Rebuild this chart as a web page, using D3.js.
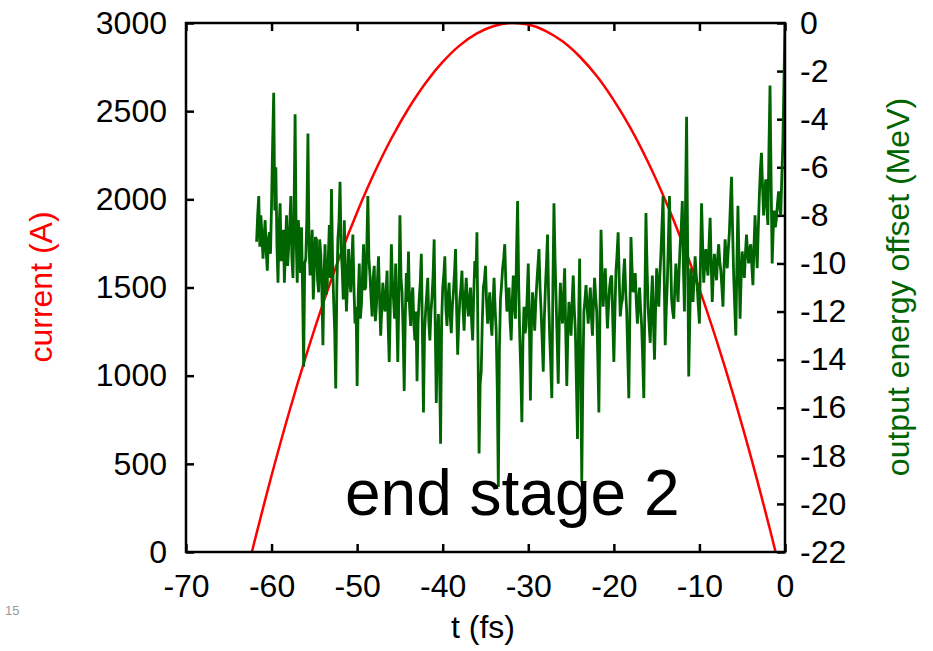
<!DOCTYPE html>
<html>
<head>
<meta charset="utf-8">
<script src="https://cdn.jsdelivr.net/npm/d3@7"></script>
<style>
body{margin:0;background:#fff;}
text{font-family:"Liberation Sans",Arial,sans-serif;}
</style>
</head>
<body>
<div id="graph"></div>
<script>
// axis ticks
var xTicks=[-70,-60,-50,-40,-30,-20,-10,0];
var yTicks=[0,500,1000,1500,2000,2500,3000];
var y2Ticks=[0,-2,-4,-6,-8,-10,-12,-14,-16,-18,-20,-22];

// current profile (red), t in fs, current in A
var currentT=[-62.3,-62,-60,-58,-56,-54,-52,-50,-48,-46,-44,-42,-40,-38,-36,-34,-32,
  -30,-28,-26,-24,-22,-20,-18,-16,-14,-12,-10,-8,-6,-4,-2,-1.1];
var currentA=[0,59,434,784,1108,1407,1680,1927,2149,2345,2515,2660,2779,2873,2941,2983,3000,
  2991,2956,2896,2810,2699,2561,2399,2210,1996,1757,1491,1200,884,542,174,0];

// output energy offset (green), MeV, one sample every 0.125 fs from -61.75 fs
var energyStart=-61.75, energyStep=0.125;
var energy=[-9.1,-8.0,-7.2,-9.3,-8.0,-8.8,
  -9.8,-8.9,-8.2,-9.5,-10.3,-9.0,-8.7,-9.6,
  -7.5,-5.0,-2.9,-7.8,-6.0,-9.2,-10.8,-8.5,
  -7.5,-9.9,-9.4,-8.6,-10.8,-9.3,-8.0,-10.1,
  -9.3,-8.4,-7.2,-9.8,-10.6,-7.9,-3.8,-9.0,
  -10.8,-8.2,-9.0,-10.4,-8.5,-11.2,-14.3,-10.0,
  -9.8,-8.1,-4.6,-9.2,-10.5,-9.4,-8.6,-11.5,
  -10.2,-8.9,-9.0,-10.7,-11.2,-9.0,-9.6,-11.0,
  -13.4,-10.5,-9.2,-11.3,-10.9,-9.8,-8.4,-10.6,
  -6.9,-9.8,-11.5,-12.8,-15.2,-11.0,-9.0,-8.3,
  -6.6,-9.4,-10.2,-11.5,-8.2,-10.4,-12.0,-10.8,
  -9.4,-10.6,-11.2,-9.9,-8.8,-11.0,-12.5,-11.8,
  -15.1,-11.4,-10.0,-12.3,-11.7,-10.5,-9.2,-11.1,
  -11.0,-9.4,-7.2,-9.8,-10.5,-11.4,-12.2,-10.6,
  -10.1,-12.4,-11.8,-10.7,-9.7,-11.5,-13.0,-11.9,
  -10.8,-11.6,-12.0,-11.2,-10.3,-12.6,-14.1,-11.8,
  -9.2,-10.8,-11.5,-12.3,-10.0,-12.0,-14.1,-11.4,
  -8.0,-10.6,-11.2,-12.9,-15.3,-12.2,-10.4,-11.6,
  -9.5,-11.8,-12.6,-11.4,-11.0,-12.5,-13.2,-12.0,
  -14.9,-12.4,-11.5,-10.8,-9.6,-12.8,-16.2,-12.9,
  -12.0,-11.3,-10.6,-12.4,-13.2,-12.0,-11.4,-10.5,
  -9.0,-12.6,-15.8,-13.0,-12.1,-14.2,-17.5,-12.4,
  -11.0,-10.5,-9.7,-11.9,-12.6,-11.4,-10.8,-12.2,
  -12.9,-11.8,-11.2,-10.4,-9.4,-11.9,-13.8,-12.4,
  -11.5,-11.0,-10.3,-11.9,-12.8,-11.4,-10.6,-11.6,
  -12.2,-11.5,-11.0,-12.4,-13.2,-11.3,-9.9,-10.6,
  -8.7,-13.5,-17.9,-15.0,-14.5,-12.4,-11.0,-10.7,
  -10.1,-11.6,-12.5,-11.8,-11.2,-12.4,-13.0,-11.7,
  -10.6,-11.9,-12.8,-15.2,-19.3,-13.6,-11.5,-10.9,
  -10.2,-9.8,-9.2,-10.8,-12.0,-11.6,-11.0,-12.4,
  -13.2,-11.6,-10.5,-11.7,-12.3,-9.6,-7.4,-10.8,
  -13.0,-14.5,-16.6,-13.2,-11.8,-12.9,-12.6,-11.3,
  -10.0,-12.4,-15.7,-12.5,-11.2,-12.0,-12.8,-11.6,
  -10.8,-10.1,-9.4,-11.0,-12.0,-13.2,-14.5,-12.3,
  -11.0,-10.0,-8.8,-11.4,-13.0,-14.2,-15.6,-11.0,
  -7.5,-9.8,-11.5,-13.2,-15.0,-12.4,-10.8,-11.9,
  -12.5,-11.3,-10.2,-12.8,-15.1,-12.9,-11.6,-12.4,
  -13.0,-11.6,-10.5,-11.9,-12.8,-15.0,-17.3,-12.6,
  -9.8,-14.5,-19.1,-14.8,-12.0,-11.5,-10.9,-11.8,
  -12.5,-11.7,-11.0,-12.2,-13.0,-11.6,-10.6,-11.4,
  -12.0,-14.0,-16.2,-12.0,-8.6,-10.4,-11.8,-10.9,
  -10.2,-11.5,-12.7,-11.8,-11.0,-10.6,-10.5,-12.4,
  -14.1,-12.0,-10.3,-9.6,-8.7,-10.6,-12.2,-11.7,
  -11.5,-10.5,-9.8,-11.1,-12.0,-13.8,-15.6,-12.0,
  -8.9,-10.2,-11.2,-10.9,-10.4,-11.6,-12.5,-11.6,
  -11.0,-11.9,-12.6,-14.0,-15.6,-11.5,-7.9,-10.1,
  -11.8,-12.6,-13.3,-11.6,-10.5,-12.4,-14.0,-11.9,
  -10.2,-11.1,-11.8,-10.5,-9.6,-8.4,-7.2,-10.3,
  -13.4,-11.9,-10.8,-9.0,-7.2,-9.6,-11.5,-12.0,
  -12.3,-11.0,-10.0,-10.9,-11.6,-10.3,-9.2,-8.5,
  -7.4,-10.1,-12.0,-7.5,-3.9,-9.5,-14.7,-12.3,
  -10.2,-11.0,-11.6,-10.6,-9.7,-10.5,-11.0,-11.8,
  -12.5,-9.8,-7.5,-9.2,-10.8,-10.0,-9.4,-10.1,
  -10.5,-9.2,-8.1,-10.0,-11.6,-10.4,-9.6,-10.2,
  -10.7,-9.8,-9.2,-9.9,-10.3,-11.0,-11.8,-10.2,
  -9.0,-9.7,-10.2,-9.4,-8.7,-7.5,-6.4,-8.6,
  -10.5,-11.8,-13.0,-10.1,-7.6,-9.9,-12.3,-10.6,
  -9.5,-10.1,-10.6,-9.6,-8.8,-9.5,-10.0,-9.4,
  -9.2,-10.1,-10.9,-9.3,-8.0,-9.2,-10.2,-8.6,
  -7.2,-6.1,-5.4,-6.8,-8.0,-7.1,-6.5,-7.6,
  -8.4,-5.2,-2.6,-6.5,-10.0,-8.6,-7.8,-8.5,
  -8.1,-7.5,-7.0,-7.6,-8.0,-6.4,-5.0,-2.5,
  0];

function drawChart(){
  var width=933,height=651;
  var left=186,right=785,top=23,bottom=552;

  var svg=d3.select("#graph").append("svg")
      .attr("width",width)
      .attr("height",height);

  var x=d3.scaleLinear().domain([-70,0]).range([left,right]);
  var y=d3.scaleLinear().domain([0,3000]).range([bottom,top]);
  var y2=d3.scaleLinear().domain([-22,0]).range([bottom,top]);

  svg.append("clipPath").attr("id","plotArea")
    .append("rect")
      .attr("x",left).attr("y",top)
      .attr("width",right-left).attr("height",bottom-top);

  var fmt=function(d){return String(d);};

  var xAxis=svg.append("g")
      .attr("transform","translate(0,"+bottom+")")
      .call(d3.axisBottom(x).tickValues(xTicks).tickSize(-8).tickPadding(22).tickFormat(fmt));
  var xTop=svg.append("g")
      .attr("transform","translate(0,"+top+")")
      .call(d3.axisTop(x).tickValues(xTicks).tickSize(-8).tickFormat(""));
  var yAxis=svg.append("g")
      .attr("transform","translate("+left+",0)")
      .call(d3.axisLeft(y).tickValues(yTicks).tickSize(-8).tickPadding(19).tickFormat(fmt));
  var y2Axis=svg.append("g")
      .attr("transform","translate("+right+",0)")
      .call(d3.axisRight(y2).tickValues(y2Ticks).tickSize(-8).tickPadding(15).tickFormat(fmt));

  [xAxis,xTop,yAxis,y2Axis].forEach(function(a){
    a.select(".domain").remove();
    a.selectAll(".tick line").attr("stroke","#000").attr("stroke-width",2.5);
    a.selectAll(".tick text")
      .attr("fill","#000")
      .style("font-size","32px")
      .style("font-family","'Liberation Sans',Arial,sans-serif");
  });

  var lines=svg.append("g").attr("clip-path","url(#plotArea)");

  var redLine=d3.line()
      .x(function(d,i){return x(currentT[i]);})
      .y(function(d){return y(d);})
      .curve(d3.curveCatmullRom);
  lines.append("path")
      .datum(currentA)
      .attr("fill","none")
      .attr("stroke","#ff0000")
      .attr("stroke-width",2.5)
      .attr("d",redLine);

  var greenLine=d3.line()
      .x(function(d,i){return x(energyStart+i*energyStep);})
      .y(function(d){return y2(d);});
  lines.append("path")
      .datum(energy)
      .attr("fill","none")
      .attr("stroke","#006400")
      .attr("stroke-width",2.8)
      .attr("d",greenLine);

  svg.append("rect")
      .attr("x",left).attr("y",top)
      .attr("width",right-left).attr("height",bottom-top)
      .attr("fill","none")
      .attr("stroke","#000")
      .attr("stroke-width",2.5);

  svg.append("text")
      .attr("transform","translate(52,287)rotate(-90)")
      .attr("text-anchor","middle")
      .attr("fill","#ff0000")
      .style("font-size","32px")
      .text("current (A)");

  svg.append("text")
      .attr("transform","translate(909,287)rotate(-90)")
      .attr("text-anchor","middle")
      .attr("fill","#006400")
      .style("font-size","32px")
      .text("output energy offset (MeV)");

  svg.append("text")
      .attr("x",483).attr("y",638)
      .attr("text-anchor","middle")
      .attr("fill","#000")
      .style("font-size","32px")
      .text("t (fs)");

  svg.append("text")
      .attr("x",345).attr("y",515)
      .attr("fill","#000")
      .style("font-size","64px")
      .text("end stage 2");

  svg.append("text")
      .attr("x",5).attr("y",615)
      .attr("fill","#999")
      .style("font-size","13px")
      .text("15");
}

drawChart();
</script>
</body>
</html>
